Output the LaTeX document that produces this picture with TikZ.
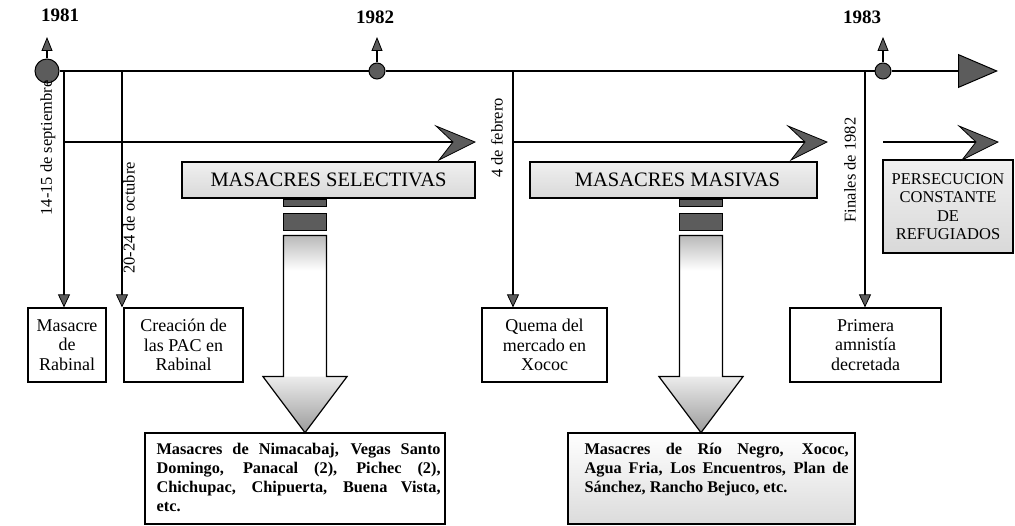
\documentclass[tikz,border=0pt]{standalone}
\usepackage{fontspec}
\setmainfont{Liberation Serif}
\usetikzlibrary{arrows.meta,calc}
\definecolor{dark}{gray}{0.36}

\tikzset{
  yearball/.style={circle,fill=dark,draw=black,line width=1pt,inner sep=0pt,minimum size=#1},
  yearlabel/.style={font=\fontsize{19}{22}\selectfont\bfseries,inner sep=0pt},
  upstem/.style={line width=1.3pt,-{Triangle[width=11pt,length=14pt,fill=dark,line width=0.8pt]}},
  timeline/.style={line width=2.6pt},
  mainhead/.style={-{Triangle[width=34pt,length=40pt,fill=dark,line width=1pt]}},
  drop/.style={line width=1.4pt,-{Triangle[width=12pt,length=13pt,fill=dark,line width=0.8pt]}},
  datelabel/.style={rotate=90,font=\fontsize{16.5}{18}\selectfont,inner sep=0pt},
  eventbox/.style={draw=black,line width=1.2pt,fill=white,align=center,inner sep=2pt,
    minimum height=74pt,font=\fontsize{18}{19.5}\selectfont},
  phasebox/.style={draw=black,line width=1.2pt,top color=gray!12,bottom color=gray!30,
    align=center,inner sep=2pt,font=\fontsize{20.5}{22}\selectfont},
  listbox/.style={draw=black,line width=1.2pt,inner sep=0pt,minimum height=91pt},
  listtext/.style={anchor=north west,align=justify,inner sep=0pt,
    font=\fontsize{16.3}{19}\selectfont\bfseries},
  dart/.pic={\filldraw[fill=dark,draw=black,line width=0.8pt]
    (0,0) -- (-39,-16) -- (-22,0) -- (-36,18) -- cycle;},
  blockarrow/.pic={
    \filldraw[fill=dark,draw=black,line width=0.8pt] (-21.5,1) rectangle (21.5,8);
    \filldraw[fill=dark,draw=black,line width=0.8pt] (-21.5,15) rectangle (21.5,32);
    \fill[white] (-21.5,37) -- (21.5,37) -- (21.5,178) -- (42,178) -- (0,234)
      -- (-42,178) -- (-21.5,178) -- cycle;
    \shade[top color=gray!55,bottom color=white] (-21.5,37) rectangle (21.5,72);
    \shade[top color=gray!15,bottom color=gray!78] (42,178) -- (0,234) -- (-42,178) -- cycle;
    \draw[line width=1.2pt] (-21.5,37) -- (21.5,37) -- (21.5,178) -- (42,178) -- (0,234)
      -- (-42,178) -- (-21.5,178) -- cycle;}
}

\begin{document}
\begin{tikzpicture}[x=1pt,y=-1pt]
\useasboundingbox (0,0) rectangle (1015,526);

% year markers on the main time axis
\node[yearball=24pt] (c81) at (47,71) {};
\node[yearball=16pt] (c82) at (377,71) {};
\node[yearball=16pt] (c83) at (883,71) {};
\coordinate (tend) at (998,71);

\draw[timeline] (c81.east) -- (c82.west);
\draw[timeline] (c82.east) -- (c83.west);
\draw[timeline,mainhead] (c83.east) -- (tend);

\node[yearlabel] (y81) at (60,15) {1981};
\node[yearlabel] (y82) at (375,17) {1982};
\node[yearlabel] (y83) at (862,17) {1983};
\coordinate (a81) at (47,37);
\coordinate (a82) at (377,37);
\coordinate (a83) at (883,37);
\draw[upstem] (c81.north) -- (a81);
\draw[upstem] (c82.north) -- (a82);
\draw[upstem] (c83.north) -- (a83);

% phase boxes
\node[phasebox,minimum width=293pt,minimum height=36pt] (sel) at (328.5,180) {MASACRES SELECTIVAS};
\node[phasebox,minimum width=287pt,minimum height=36pt] (mas) at (673.5,180) {\hspace*{8pt}MASACRES MASIVAS};
\node[phasebox,minimum width=130pt,minimum height=93pt,font=\fontsize{16.5}{18.5}\selectfont]
  (per) at (948,206.5) {PERSECUCION\\CONSTANTE\\DE\\REFUGIADOS};

% event boxes
\node[eventbox,minimum width=78pt] (b1) at (67,345) {Masacre\\de\\Rabinal};
\node[eventbox,minimum width=119pt] (b2) at (183.5,345) {Creación de\\las PAC en\\Rabinal};
\node[eventbox,minimum width=125pt] (b3) at (544.5,345) {Quema del\\mercado en\\Xococ};
\node[eventbox,minimum width=151pt] (b4) at (865.5,345) {Primera\\amnistía\\decretada};

% dates hanging from the time axis
\coordinate (v1) at (64,71);
\coordinate (v2) at (122,71);
\coordinate (v3) at (513,71);
\coordinate (v4) at (865,71);
\draw[drop] (v1) -- (v1 |- b1.north);
\draw[drop] (v2) -- (v2 |- b2.north);
\draw[drop] (v3) -- (v3 |- b3.north);
\draw[drop] (v4) -- (v4 |- b4.north);

\node[datelabel] (d1) at (48,148) {14-15 de septiembre};
\node[datelabel] (d2) at (129,218) {20-24 de octubre};
\node[datelabel] (d3) at (497,138) {4 de febrero};
\node[datelabel] (d4) at (850,170) {Finales de 1982};

% period axis
\coordinate (p1) at (64,142);
\coordinate (q1) at (475,142);
\coordinate (p2) at (513,142);
\coordinate (q2) at (827,142);
\coordinate (p3) at (883,142);
\coordinate (q3) at (998,142);
\draw[timeline] (p1) -- ($(q1)+(-22,0)$);
\draw[timeline] (p2) -- ($(q2)+(-22,0)$);
\draw[timeline] (p3) -- ($(q3)+(-22,0)$);
\pic at (q1) {dart};
\pic at (q2) {dart};
\pic at (q3) {dart};

% block arrows leading to the lists of massacres
\pic at (sel.south -| 305,0) {blockarrow};
\pic at (mas.south -| 701,0) {blockarrow};

\node[listbox,fill=white,minimum width=300pt] (l1) at (295,478.5) {};
\node[listbox,top color=white,bottom color=gray!28,minimum width=287pt] (l2) at (711.5,478.5) {};

\node[listtext,text width=284pt] (t1) at ($(l1.north west)+(12,11)$)
  {\hyphenpenalty=10000 Masacres de Nimacabaj, Vegas Santo\linebreak Domingo, Panacal (2), Pichec (2),\linebreak
   Chichupac, Chipuerta, Buena Vista,\linebreak etc.};
\node[listtext,text width=264pt] (t2) at ($(l2.north west)+(17,11)$)
  {\hyphenpenalty=10000 Masacres de Río Negro, Xococ,\linebreak Agua Fria, Los Encuentros, Plan de\linebreak
   Sánchez, Rancho Bejuco, etc.};
\end{tikzpicture}
\end{document}
